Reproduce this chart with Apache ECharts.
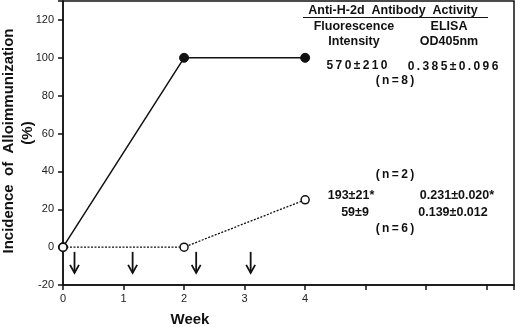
<!DOCTYPE html>
<html>
<head>
<meta charset="utf-8">
<script src="https://cdn.jsdelivr.net/npm/echarts@6/dist/echarts.min.js"></script>
<style>
  html, body { margin: 0; padding: 0; background: #fff; }
</style>
</head>
<body>
<div id="main" style="width: 520px;height:327px;"></div>
<script type="text/javascript">
// chart data
var weeks = [0, 2, 4];
var immunized = [0, 100, 100];      // solid line, filled dots
var control = [0, 0, 25];           // dotted line, open dots
var injectionWeeks = [0.19, 1.15, 2.2, 3.1];
var arrowTop = -2.5, arrowBottom = -13.6;
var yTicks = [-20, 0, 20, 40, 60, 80, 100, 120];
var xLabels = ['0', '1', '2', '3', '4'];

var FONT = '"Liberation Sans", Arial, sans-serif';
var T = '\u2009'; // thin space, some numbers are set wide in the original

function pairs(xs, ys) {
    return xs.map(function (x, i) { return [x, ys[i]]; });
}
function wide(s) { return s.split('').join(T); }

var myChart = echarts.init(document.getElementById('main'));

function txt(s, x, y, size, rot) {
    return {
        type: 'text', x: x, y: y, rotation: rot || 0,
        style: {
            text: s, fill: '#111', font: 'bold ' + (size || 12.5) + 'px ' + FONT,
            textAlign: 'center', textVerticalAlign: 'middle'
        }
    };
}

var option = {
    animation: false,
    grid: {
        left: 63, right: 6, top: 1, bottom: 42,
        outerBoundsMode: 'none',
        show: true, borderColor: '#111', borderWidth: 1.5
    },
    xAxis: {
        type: 'value', min: 0, max: 7.45, interval: 1,
        axisLine: { onZero: false, lineStyle: { color: '#111', width: 1.5 } },
        axisTick: { length: 5, lineStyle: { color: '#111', width: 1.5 } },
        splitLine: { show: false },
        showMaxLabel: false,
        axisLabel: {
            color: '#222', fontFamily: FONT, fontSize: 11, margin: 8,
            formatter: function (v) { return xLabels.indexOf(String(v)) >= 0 ? String(v) : ''; }
        }
    },
    yAxis: {
        type: 'value', min: -20, max: 130, interval: 20,
        axisLine: { onZero: false, lineStyle: { color: '#111', width: 1.5 } },
        axisTick: { length: 5, lineStyle: { color: '#111', width: 1.5 } },
        splitLine: { show: false },
        axisLabel: {
            color: '#222', fontFamily: FONT, fontSize: 11, margin: 9,
            formatter: function (v) { return yTicks.indexOf(v) >= 0 ? String(v) : ''; }
        }
    },
    graphic: [
        txt('Incidence  of  Alloimmunization', 9, 141, 15, Math.PI / 2),
        txt('(%)', 28, 133, 15, Math.PI / 2),
        txt('Week', 190, 320, 15),
        txt('Anti-H-2d  Antibody  Activity', 393, 11, 12.5),
        { type: 'line', shape: { x1: 303, y1: 17.5, x2: 488, y2: 17.5 }, style: { stroke: '#111', lineWidth: 1.2 } },
        txt('Fluorescence', 354, 27),
        txt('ELISA', 449, 27),
        txt('Intensity', 354, 42),
        txt('OD405nm', 449, 42),
        txt(wide('570±210'), 357, 66, 12),
        txt(wide('0.385±0.096'), 453, 67, 12),
        txt(wide('(n=8)'), 395, 81, 12),
        txt(wide('(n=2)'), 395, 175, 12),
        txt('193±21*', 351, 196),
        txt('0.231±0.020*', 457, 196),
        txt('59±9', 355, 213),
        txt('0.139±0.012', 453, 213),
        txt(wide('(n=6)'), 395, 229, 12)
    ],
    series: [
        {
            name: 'immunized', type: 'line', data: pairs(weeks, immunized),
            symbol: 'circle', symbolSize: 9, z: 3,
            lineStyle: { color: '#111', width: 1.5 },
            itemStyle: { color: '#111', borderColor: '#111' }
        },
        {
            name: 'control', type: 'line', data: pairs(weeks, control),
            symbol: 'circle', symbolSize: 8, showAllSymbol: true, z: 4,
            lineStyle: { color: '#111', width: 1.3, type: [2, 1.5] },
            itemStyle: { color: '#fff', borderColor: '#111', borderWidth: 1.5 }
        },
        {
            name: 'injections', type: 'custom', z: 5,
            data: injectionWeeks.map(function (w) { return [w, arrowTop, arrowBottom]; }),
            renderItem: function (params, api) {
                var p1 = api.coord([api.value(0), api.value(1)]);
                var p2 = api.coord([api.value(0), api.value(2)]);
                var s = { stroke: '#111', lineWidth: 1.8, fill: null };
                return {
                    type: 'group',
                    children: [
                        { type: 'line', shape: { x1: p1[0], y1: p1[1], x2: p2[0], y2: p2[1] }, style: s },
                        { type: 'polyline', shape: { points: [[p2[0] - 4.5, p2[1] - 8], [p2[0], p2[1]], [p2[0] + 4.5, p2[1] - 8]] }, style: s }
                    ]
                };
            }
        }
    ]
};

myChart.setOption(option);
</script>
</body>
</html>
